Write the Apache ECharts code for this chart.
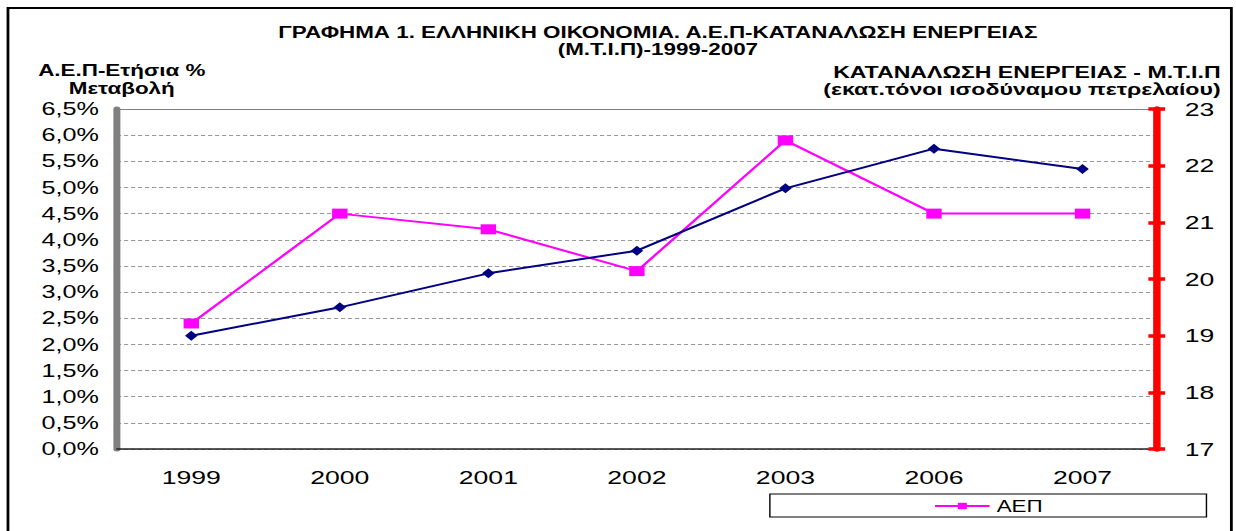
<!DOCTYPE html>
<html>
<head>
<meta charset="utf-8">
<script src="https://cdn.jsdelivr.net/npm/echarts@6/dist/echarts.min.js"></script>
<style>
html,body{margin:0;padding:0;background:#fff;overflow:hidden;}
#c{width:883px;height:531px;transform:scaleX(1.39977);transform-origin:0 0;}
</style>
</head>
<body>
<div id="c"></div>
<script>
const categories = ['1999', '2000', '2001', '2002', '2003', '2006', '2007'];
const gdpGrowth = [2.4, 4.5, 4.2, 3.4, 5.9, 4.5, 4.5];
const energyConsumption = [19.0, 19.5, 20.1, 20.5, 21.6, 22.3, 21.94];
const gdpAxis = { min: 0, max: 6.5, interval: 0.5 };
const energyAxis = { min: 17, max: 23, interval: 1 };
const titleText = 'ΓΡΑΦΗΜΑ 1. ΕΛΛΗΝΙΚΗ ΟΙΚΟΝΟΜΙΑ. Α.Ε.Π-ΚΑΤΑΝΑΛΩΣΗ ΕΝΕΡΓΕΙΑΣ\n(Μ.Τ.Ι.Π)-1999-2007';
const leftName = 'Α.Ε.Π-Ετήσια %\nΜεταβολή';
const rightName = 'ΚΑΤΑΝΑΛΩΣΗ ΕΝΕΡΓΕΙΑΣ - Μ.Τ.Ι.Π\n(εκατ.τόνοι ισοδύναμου πετρελαίου)';
const gdpName = 'ΑΕΠ';
const energyName = 'ΚΑΤΑΝΑΛΩΣΗ ΕΝΕΡΓΕΙΑΣ';

const FONT = '"Liberation Sans", Arial, sans-serif';
const chart = echarts.init(document.getElementById('c'), null, { renderer: 'svg' });

const redAxisBase = {
  type: 'value', position: 'right',
  min: energyAxis.min, max: energyAxis.max, interval: energyAxis.interval,
  splitLine: { show: false },
  axisLine: { show: true, lineStyle: { color: '#ff0000', width: 5 } }
};

chart.setOption({
  backgroundColor: '#ffffff',
  animation: false,
  textStyle: { fontFamily: FONT },
  graphic: [
    { type: 'rect', shape: { x: 5.7, y: 8, width: 874, height: 540 },
      style: { fill: 'none', stroke: '#000', lineWidth: 2 }, silent: true },
    { type: 'text', x: 470, y: 23.5,
      style: { text: titleText, align: 'center', verticalAlign: 'top', fill: '#000',
               fontFamily: FONT, fontSize: 16, fontWeight: 'bold', lineHeight: 17 } },
    { type: 'text', x: 87, y: 61,
      style: { text: leftName, align: 'center', verticalAlign: 'top', fill: '#000',
               fontFamily: FONT, fontSize: 16, fontWeight: 'bold', lineHeight: 18 } },
    { type: 'text', x: 872, y: 64,
      style: { text: rightName, align: 'right', verticalAlign: 'top', fill: '#000',
               fontFamily: FONT, fontSize: 16.5, fontWeight: 'bold', lineHeight: 17 } }
  ],
  legend: {
    data: [gdpName],
    left: 550, top: 494,
    padding: [4, 117, 3, 117],
    borderColor: '#000', borderWidth: 1,
    itemWidth: 39, itemHeight: 8, itemGap: 2,
    textStyle: { fontSize: 16, color: '#000', fontFamily: FONT }
  },
  grid: { left: 83.6, right: 56.6, top: 109, bottom: 82, containLabel: false },
  xAxis: [
    {
      type: 'category', data: categories, boundaryGap: true, position: 'bottom',
      axisLine: { show: true, lineStyle: { color: '#222', width: 1.5 } },
      axisTick: { show: false },
      axisLabel: { fontSize: 19, color: '#000', margin: 19, fontFamily: FONT }
    },
    {
      type: 'category', data: categories, boundaryGap: true, position: 'top',
      axisLine: { show: true, lineStyle: { color: '#808080', width: 1 } },
      axisTick: { show: false }, axisLabel: { show: false }
    }
  ],
  yAxis: [
    {
      type: 'value', position: 'left',
      min: gdpAxis.min, max: gdpAxis.max, interval: gdpAxis.interval,
      axisLine: { show: true, lineStyle: { color: '#808080', width: 5 } },
      axisTick: { show: false },
      axisLabel: { fontSize: 18, color: '#000', margin: 13, fontFamily: FONT,
        formatter: v => v.toFixed(1).replace('.', ',') + '%' },
      splitLine: { show: true, lineStyle: { color: '#999', width: 1, type: [3, 2] } }
    },
    Object.assign({}, redAxisBase, {
      axisTick: { show: true, inside: false, length: 6, lineStyle: { color: '#ff0000', width: 3.5 } },
      axisLabel: { fontSize: 19, color: '#000', margin: 20, fontFamily: FONT }
    }),
    Object.assign({}, redAxisBase, {
      axisTick: { show: true, inside: true, length: 6, lineStyle: { color: '#ff0000', width: 3.5 } },
      axisLabel: { show: false }
    })
  ],
  series: [
    {
      name: gdpName, type: 'line', xAxisIndex: 0, yAxisIndex: 0, data: gdpGrowth,
      symbol: 'rect', symbolSize: [11, 10],
      itemStyle: { color: '#ff00ff' },
      lineStyle: { color: '#ff00ff', width: 2 }
    },
    {
      name: energyName, type: 'line', xAxisIndex: 0, yAxisIndex: 1, data: energyConsumption,
      symbol: 'diamond', symbolSize: [9, 10],
      itemStyle: { color: '#000080' },
      lineStyle: { color: '#000080', width: 2 }
    }
  ]
});
</script>
</body>
</html>
